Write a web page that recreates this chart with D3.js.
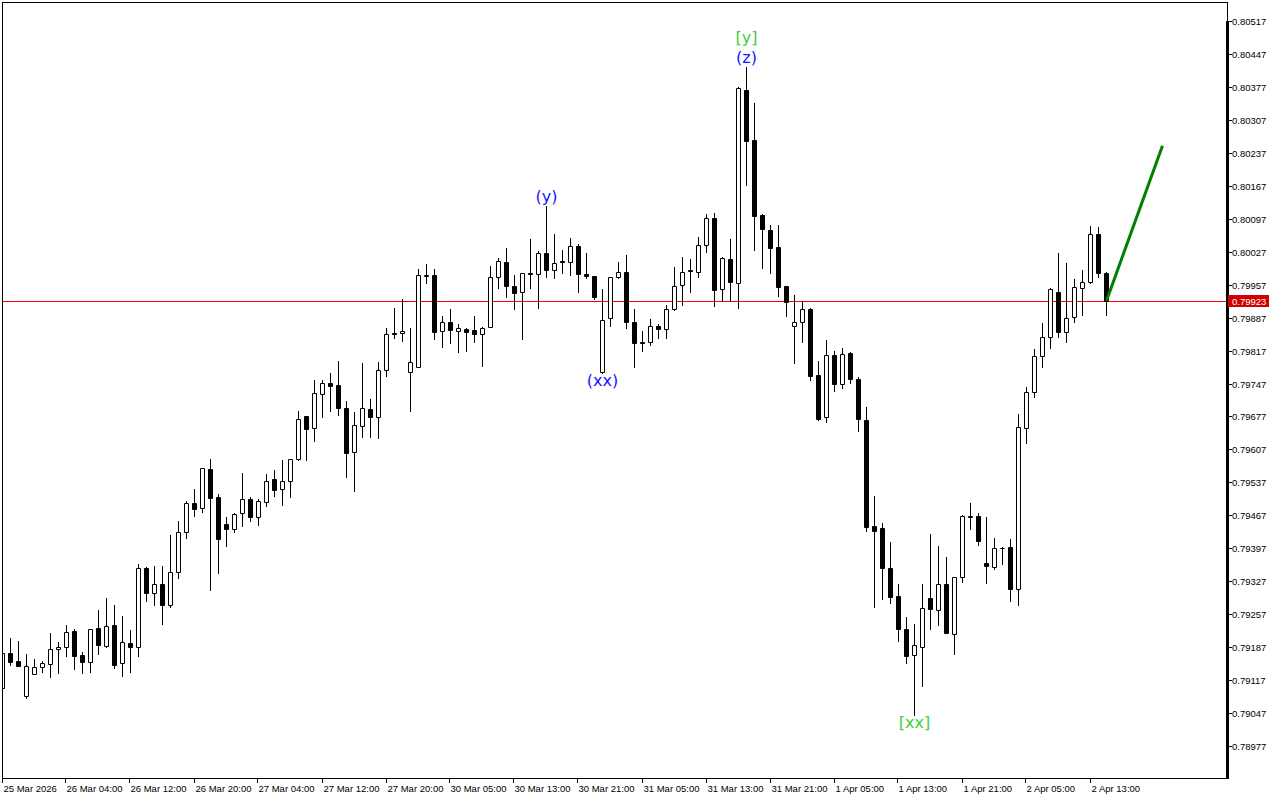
<!DOCTYPE html>
<html>
<head>
<meta charset="utf-8">
<script src="https://cdn.jsdelivr.net/npm/d3@7"></script>
<style>
body { margin: 0; background: #fff; }
text { font-family: "Liberation Sans", Arial, sans-serif; }
</style>
</head>
<body>
<script>
// H1 candles, oldest first (25 Mar 20:00 -> 2 Apr 18:00)
let opens = [
  0.79100,0.79174,0.79157,0.79083,0.79130,0.79145,0.79151,0.79183,0.79187,0.79221,
  0.79170,0.79155,0.79228,0.79189,0.79234,0.79153,0.79196,0.79187,0.79355,0.79302,
  0.79321,0.79276,0.79346,0.79431,0.79493,0.79482,0.79565,0.79506,0.79448,0.79438,
  0.79472,0.79501,0.79463,0.79495,0.79544,0.79523,0.79540,0.79587,0.79678,0.79652,
  0.79725,0.79748,0.79744,0.79695,0.79601,0.79657,0.79693,0.79676,0.79776,0.79855,
  0.79854,0.79771,0.79782,0.79975,0.79977,0.79858,0.79878,0.79858,0.79863,0.79861,
  0.79852,0.79867,0.79973,0.80005,0.79954,0.79941,0.79982,0.79979,0.80024,0.79988,
  0.80007,0.80005,0.80039,0.79979,0.79975,0.79771,0.79886,0.79973,0.79984,0.79878,
  0.79835,0.79835,0.79869,0.79863,0.79905,0.79956,0.79988,0.79984,0.80041,0.80098,
  0.79948,0.80011,0.79960,0.80370,0.80264,0.80105,0.80073,0.80037,0.79954,0.79869,
  0.79878,0.79905,0.79765,0.79676,0.79808,0.79746,0.79812,0.79757,0.79669,0.79444,
  0.79440,0.79355,0.79296,0.79225,0.79170,0.79187,0.79291,0.79266,0.79321,0.79215,
  0.79336,0.79464,0.79465,0.79366,0.79357,0.79397,0.79400,0.79310,0.79652,0.79729,
  0.79805,0.79846,0.79941,0.79856,0.79888,0.79950,0.79962,0.80064,0.79982
];
let highs = [
  0.79185,0.79206,0.79200,0.79172,0.79162,0.79157,0.79217,0.79198,0.79234,0.79225,
  0.79177,0.79226,0.79266,0.79291,0.79276,0.79253,0.79223,0.79363,0.79357,0.79359,
  0.79359,0.79425,0.79455,0.79497,0.79523,0.79568,0.79587,0.79512,0.79463,0.79472,
  0.79557,0.79506,0.79502,0.79555,0.79563,0.79584,0.79587,0.79688,0.79678,0.79754,
  0.79754,0.79769,0.79795,0.79710,0.79686,0.79791,0.79714,0.79793,0.79865,0.79907,
  0.79926,0.79865,0.79990,0.80001,0.79990,0.79890,0.79905,0.79873,0.79865,0.79890,
  0.79866,0.79997,0.80014,0.80035,0.79977,0.79982,0.80054,0.80028,0.80124,0.80064,
  0.80030,0.80056,0.80043,0.80024,0.79976,0.79948,0.79974,0.80005,0.80020,0.79905,
  0.79858,0.79884,0.79873,0.79914,0.79994,0.80016,0.80011,0.80058,0.80107,0.80109,
  0.80015,0.80054,0.80377,0.80419,0.80343,0.80107,0.80084,0.80084,0.79955,0.79935,
  0.79922,0.79907,0.79795,0.79839,0.79816,0.79822,0.79814,0.79761,0.79697,0.79508,
  0.79451,0.79410,0.79321,0.79251,0.79236,0.79321,0.79427,0.79402,0.79378,0.79337,
  0.79468,0.79493,0.79472,0.79463,0.79419,0.79400,0.79417,0.79682,0.79740,0.79820,
  0.79875,0.79949,0.80024,0.80003,0.79969,0.79988,0.80082,0.80079,0.79983
];
let lows = [
  0.79096,0.79149,0.79146,0.79079,0.79130,0.79134,0.79123,0.79132,0.79168,0.79140,
  0.79132,0.79134,0.79172,0.79187,0.79143,0.79126,0.79134,0.79168,0.79285,0.79276,
  0.79236,0.79272,0.79334,0.79419,0.79465,0.79474,0.79308,0.79344,0.79402,0.79431,
  0.79444,0.79455,0.79446,0.79487,0.79508,0.79489,0.79506,0.79584,0.79584,0.79625,
  0.79676,0.79688,0.79680,0.79548,0.79519,0.79633,0.79633,0.79631,0.79763,0.79844,
  0.79837,0.79688,0.79781,0.79960,0.79841,0.79825,0.79833,0.79814,0.79816,0.79835,
  0.79784,0.79866,0.79950,0.79931,0.79905,0.79841,0.79950,0.79907,0.79973,0.79971,
  0.79982,0.79977,0.79941,0.79971,0.79926,0.79769,0.79869,0.79971,0.79865,0.79782,
  0.79816,0.79829,0.79844,0.79844,0.79903,0.79914,0.79941,0.79973,0.80026,0.79912,
  0.79922,0.79922,0.79907,0.80169,0.80030,0.79992,0.79982,0.79933,0.79890,0.79791,
  0.79835,0.79754,0.79669,0.79665,0.79731,0.79737,0.79748,0.79646,0.79434,0.79272,
  0.79289,0.79281,0.79200,0.79153,0.79043,0.79104,0.79225,0.79234,0.79216,0.79172,
  0.79325,0.79438,0.79404,0.79323,0.79353,0.79363,0.79285,0.79276,0.79621,0.79718,
  0.79782,0.79822,0.79846,0.79835,0.79878,0.79892,0.79960,0.79973,0.79892
];
let closes = [
  0.79174,0.79155,0.79147,0.79147,0.79145,0.79153,0.79183,0.79187,0.79219,0.79168,
  0.79155,0.79225,0.79191,0.79232,0.79149,0.79198,0.79187,0.79355,0.79302,0.79321,
  0.79276,0.79346,0.79431,0.79493,0.79480,0.79567,0.79504,0.79417,0.79438,0.79470,
  0.79501,0.79463,0.79497,0.79540,0.79521,0.79540,0.79587,0.79671,0.79650,0.79727,
  0.79748,0.79742,0.79695,0.79599,0.79659,0.79695,0.79676,0.79776,0.79852,0.79853,
  0.79858,0.79793,0.79977,0.79977,0.79856,0.79878,0.79861,0.79865,0.79856,0.79852,
  0.79865,0.79973,0.80007,0.79954,0.79939,0.79982,0.79979,0.80024,0.79988,0.80003,
  0.80005,0.80039,0.79979,0.79975,0.79931,0.79882,0.79973,0.79984,0.79878,0.79833,
  0.79832,0.79869,0.79863,0.79905,0.79954,0.79984,0.79985,0.80041,0.80098,0.79946,
  0.80014,0.79962,0.80375,0.80262,0.80103,0.80075,0.80035,0.79952,0.79920,0.79878,
  0.79905,0.79763,0.79671,0.79808,0.79746,0.79810,0.79757,0.79671,0.79442,0.79434,
  0.79355,0.79293,0.79225,0.79168,0.79191,0.79270,0.79268,0.79321,0.79217,0.79336,
  0.79465,0.79466,0.79412,0.79359,0.79397,0.79398,0.79310,0.79654,0.79729,0.79805,
  0.79846,0.79948,0.79856,0.79886,0.79952,0.79962,0.80064,0.79982,0.79923
];

let priceTicks = ['0.80517','0.80447','0.80377','0.80307','0.80237','0.80167','0.80097','0.80027',
  '0.79957','0.79887','0.79817','0.79747','0.79677','0.79607','0.79537','0.79467','0.79397',
  '0.79327','0.79257','0.79187','0.79117','0.79047','0.78977'];
let timeLabels = ['25 Mar 2026','26 Mar 04:00','26 Mar 12:00','26 Mar 20:00','27 Mar 04:00',
  '27 Mar 12:00','27 Mar 20:00','30 Mar 05:00','30 Mar 13:00','30 Mar 21:00','31 Mar 05:00',
  '31 Mar 13:00','31 Mar 21:00','1 Apr 05:00','1 Apr 13:00','1 Apr 21:00','2 Apr 05:00','2 Apr 13:00'];
let barsPerLabel = 8;
let lastPrice = 0.79923;
let forecastBars = [138, 145];
let forecastPrices = [0.79923, 0.80252];
let waveBars = [68, 75, 93, 93, 114];
let waveTexts = ['(y)', '(xx)', '(z)', '[y]', '[xx]'];
let waveSides = ['high', 'low', 'high', 'high', 'low'];
let waveColors = ['#1414ff', '#1414ff', '#1414ff', '#3ccf3c', '#3ccf3c'];
let waveOffsets = [4, 13, 4, 24, 13];

let width = 1280;
let height = 800;
let plotLeft = 2, plotTop = 2, plotRight = 1227, plotBottom = 778;

let x = d3.scaleLinear()
.domain([0, 152])
.range([2.5, 2.5 + 152 * 8]);

let y = d3.scaleLinear()
.domain([0.78977, 0.80517])
.range([746, 21]);

function py(v){ return Math.round(y(v)) + 0.5; }

let svg = d3.select('body')
.append('svg')
.attr('width', width)
.attr('height', height)
.style('display', 'block');

svg.append('rect')
.attr('width', width)
.attr('height', height)
.attr('fill', '#fff');

svg.append('clipPath')
.attr('id', 'plot')
.append('rect')
.attr('x', plotLeft)
.attr('y', plotTop)
.attr('width', plotRight - plotLeft)
.attr('height', plotBottom - plotTop);

let plot = svg.append('g').attr('clip-path', 'url(#plot)');

// last price line
plot.append('line')
.attr('x1', plotLeft)
.attr('x2', plotRight)
.attr('y1', py(lastPrice))
.attr('y2', py(lastPrice))
.attr('stroke', '#ff0000')
.attr('stroke-width', 1);

let idx = d3.range(opens.length);

plot.selectAll('line.wick')
.data(idx)
.enter()
.append('line')
.attr('class', 'wick')
.attr('x1', i => x(i))
.attr('x2', i => x(i))
.attr('y1', i => py(highs[i]) - 0.5)
.attr('y2', i => py(lows[i]) + 0.5)
.attr('stroke', '#000')
.attr('stroke-width', 1);

plot.selectAll('path.body')
.data(idx)
.enter()
.append('path')
.attr('class', 'body')
.attr('d', function(i){
    let t = py(Math.max(opens[i], closes[i]));
    let b = py(Math.min(opens[i], closes[i]));
    let l = x(i) - 2, r = x(i) + 2;
    return 'M' + l + ',' + t + 'H' + r + 'V' + b + 'H' + l + 'Z';
})
.attr('fill', i => closes[i] >= opens[i] ? '#fff' : '#000')
.attr('stroke', '#000')
.attr('stroke-width', 1);

// forecast line
plot.append('line')
.attr('x1', x(forecastBars[0]))
.attr('y1', y(forecastPrices[0]))
.attr('x2', x(forecastBars[1]))
.attr('y2', y(forecastPrices[1]))
.attr('stroke', '#008000')
.attr('stroke-width', 3);

// wave labels
plot.selectAll('text.wave')
.data(d3.range(waveBars.length))
.enter()
.append('text')
.attr('class', 'wave')
.attr('x', i => x(waveBars[i]))
.attr('y', function(i){
    let b = waveBars[i];
    return waveSides[i] == 'high' ? y(highs[b]) - waveOffsets[i] : y(lows[b]) + waveOffsets[i];
})
.attr('text-anchor', 'middle')
.attr('fill', i => waveColors[i])
.style('font-family', '"DejaVu Sans", sans-serif')
.style('font-size', '16px')
.text(i => waveTexts[i]);

// frame
svg.append('rect')
.attr('x', plotLeft + 0.5)
.attr('y', plotTop + 0.5)
.attr('width', plotRight - plotLeft)
.attr('height', plotBottom - plotTop)
.attr('fill', 'none')
.attr('stroke', '#000')
.attr('stroke-width', 1);

svg.append('line')
.attr('x1', plotRight + 0.5)
.attr('x2', plotRight + 0.5)
.attr('y1', 21)
.attr('y2', plotBottom + 1)
.attr('stroke', '#000')
.attr('stroke-width', 3);

// price axis
let yAxis = svg.append('g');
priceTicks.forEach(function(t){
    let yy = py(+t);
    yAxis.append('line')
    .attr('x1', plotRight + 1)
    .attr('x2', plotRight + 5)
    .attr('y1', yy)
    .attr('y2', yy)
    .attr('stroke', '#000');
    yAxis.append('text')
    .attr('x', plotRight + 5)
    .attr('y', yy)
    .attr('dy', '0.35em')
    .style('font-size', '9.5px')
    .attr('fill', '#000')
    .text(t);
});

// last price tag
svg.append('rect')
.attr('x', plotRight + 1)
.attr('y', py(lastPrice) - 6.5)
.attr('width', 41)
.attr('height', 12)
.attr('fill', '#d00000');

svg.append('text')
.attr('x', plotRight + 5)
.attr('y', py(lastPrice))
.attr('dy', '0.35em')
.style('font-size', '9.5px')
.attr('fill', '#fff')
.text(lastPrice.toFixed(5));

// time axis
let xAxis = svg.append('g');
timeLabels.forEach(function(t, k){
    let xx = Math.round(x(k * barsPerLabel)) - 0.5;
    xAxis.append('line')
    .attr('x1', xx)
    .attr('x2', xx)
    .attr('y1', plotBottom)
    .attr('y2', plotBottom + 5)
    .attr('stroke', '#000');
    xAxis.append('text')
    .attr('x', xx + 1)
    .attr('y', plotBottom + 14)
    .style('font-size', '9.5px')
    .attr('fill', '#000')
    .text(t);
});
</script>
</body>
</html>
